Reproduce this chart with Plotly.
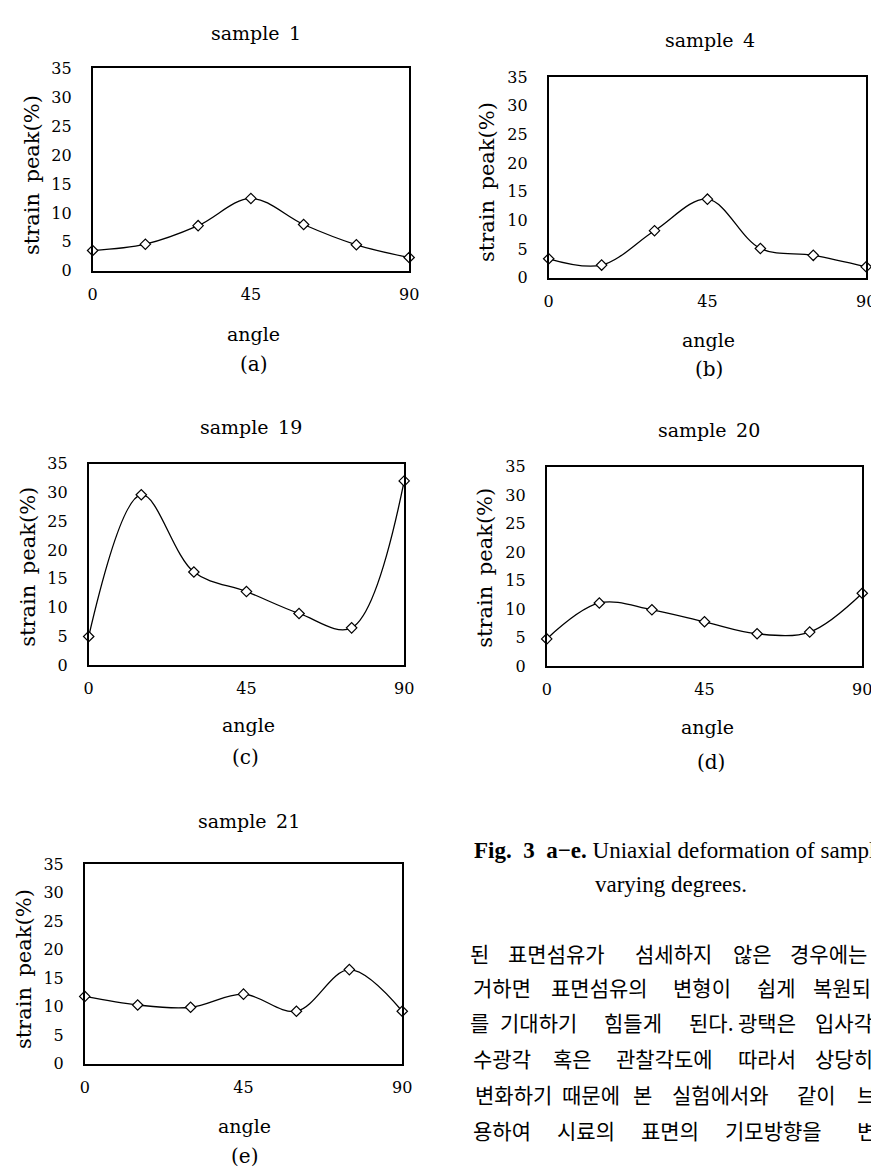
import plotly.graph_objects as go

W, H = 879, 1172

# ---- data ----
angles = [0, 15, 30, 45, 60, 75, 90]
sample_names = ["sample 1", "sample 4", "sample 19", "sample 20", "sample 21"]
panel_labels = ["(a)", "(b)", "(c)", "(d)", "(e)"]
sample1 = [3.5, 4.6, 7.8, 12.5, 8.0, 4.5, 2.3]
sample4 = [3.3, 2.2, 8.2, 13.7, 5.1, 3.9, 1.9]
sample19 = [5.0, 29.6, 16.2, 12.8, 9.0, 6.5, 32.0]
sample20 = [4.8, 11.1, 9.9, 7.8, 5.7, 6.0, 12.8]
sample21 = [11.8, 10.3, 9.9, 12.2, 9.2, 16.5, 9.2]
series = [sample1, sample4, sample19, sample20, sample21]
x_ticks = [0, 45, 90]
y_ticks = [0, 5, 10, 15, 20, 25, 30, 35]

# ---- layout geometry (pixels) ----
boxes = [  # left, right, top, bottom
    (81, 403, 52, 258),
    (545, 868, 61, 265),
    (77, 398, 454, 659),
    (543, 864, 457, 660),
    (73, 396, 861, 1064),
]
title_pos = [(247, 16), (709, 23), (242, 417), (708, 420), (240, 817)]
angle_pos = [(245, 322), (708, 328), (240, 720), (707, 722), (236, 1127)]
label_pos = [(245, 353), (708, 358), (237, 752), (710, 757), (236, 1158)]
ytitle_pos = [(20, 161), (483, 168), (15, 559), (480, 560), (12, 968)]

def px(x):
    return x / W

def py(y):
    return 1 - y / H

SERIF = "DejaVu Serif"
fig = go.Figure()
annotations = []

for i, (vals, box) in enumerate(zip(series, boxes)):
    n = "" if i == 0 else str(i + 1)
    l, r, t, b = box
    fig.add_trace(go.Scatter(
        x=angles, y=vals, mode="lines+markers",
        line=dict(color="black", width=1.3, shape="spline", smoothing=1),
        marker=dict(symbol="diamond", size=8, color="white",
                    line=dict(color="black", width=1.2)),
        xaxis="x" + n, yaxis="y" + n, cliponaxis=False, showlegend=False,
    ))
    fig.layout["xaxis" + n] = dict(
        domain=[px(l), px(r)], range=[0, 90], anchor="y" + n,
        tickvals=x_ticks, ticks="", showgrid=False, zeroline=False,
        showline=True, mirror=True, linecolor="black", linewidth=1.6,
        tickfont=dict(family=SERIF, size=16, color="black"),
        ticklabelstandoff=8, fixedrange=True,
    )
    fig.layout["yaxis" + n] = dict(
        domain=[py(b), py(t)], range=[0, 35], anchor="x" + n,
        tickvals=y_ticks, ticks="", showgrid=False, zeroline=False,
        showline=True, mirror=True, linecolor="black", linewidth=1.6,
        tickfont=dict(family=SERIF, size=16, color="black"),
        ticklabelstandoff=16, fixedrange=True,
    )
    tx, ty = title_pos[i]
    annotations.append(dict(text=sample_names[i].replace(" ", "\u2002"), x=px(tx), y=py(ty),
                            font=dict(family=SERIF, size=19, color="black")))
    ax_, ay_ = angle_pos[i]
    annotations.append(dict(text="angle", x=px(ax_), y=py(ay_),
                            font=dict(family=SERIF, size=19, color="black")))
    lx, ly = label_pos[i]
    annotations.append(dict(text=panel_labels[i], x=px(lx), y=py(ly),
                            font=dict(family=SERIF, size=20, color="black")))
    yx, yy = ytitle_pos[i]
    annotations.append(dict(text="strain\u2002peak(%)", x=px(yx), y=py(yy), textangle=-90,
                            font=dict(family=SERIF, size=21, color="black")))

for a in annotations:
    a.update(xref="paper", yref="paper", showarrow=False, xanchor="center", yanchor="middle")

# caption
CAP = "Liberation Serif"
annotations.append(dict(text="<b>Fig.\u20023\u2002a−e.</b> Uniaxial deformation of sampl",
                        x=px(467), y=py(847), xref="paper", yref="paper",
                        showarrow=False, xanchor="left", yanchor="middle",
                        font=dict(family=CAP, size=23, color="black")))
annotations.append(dict(text="varying degrees.", x=px(590), y=py(882), xref="paper", yref="paper",
                        showarrow=False, xanchor="left", yanchor="middle",
                        font=dict(family=CAP, size=23, color="black")))

# Korean body text (word by word, justified as in the page)
body = [
    (951, [(467, "된"), (500, "표면섬유가"), (630, "섬세하지"), (733, "않은"), (788, "경우에는")]),
    (986, [(467, "거하면"), (543, "표면섬유의"), (670, "변형이"), (758, "쉽게"), (813, "복원되")]),
    (1022, [(467, "를"), (493, "기대하기"), (600, "힘들게"), (680, "된다."), (737, "광택은"), (815, "입사각")]),
    (1058, [(467, "수광각"), (550, "혹은"), (610, "관찰각도에"), (737, "따라서"), (815, "상당히")]),
    (1095, [(467, "변화하기"), (557, "때문에"), (633, "본"), (667, "실험에서와"), (798, "같이"), (860, "브")]),
    (1131, [(467, "용하여"), (552, "시료의"), (638, "표면의"), (720, "기모방향을"), (860, "변")]),
]
PITCH = 22.7
for yline, words in body:
    for xw, w in words:
        span = len(w) * PITCH - 7
        annotations.append(dict(text=w, x=px(xw + span / 2), y=py(yline), xref="paper", yref="paper",
                                showarrow=False, xanchor="center", yanchor="middle",
                                font=dict(family="Noto Sans CJK KR", size=21, color="black")))

fig.update_layout(
    width=W, height=H, margin=dict(l=0, r=0, t=0, b=0),
    paper_bgcolor="white", plot_bgcolor="white",
    annotations=annotations, showlegend=False,
)
fig.write_html("out.html")
